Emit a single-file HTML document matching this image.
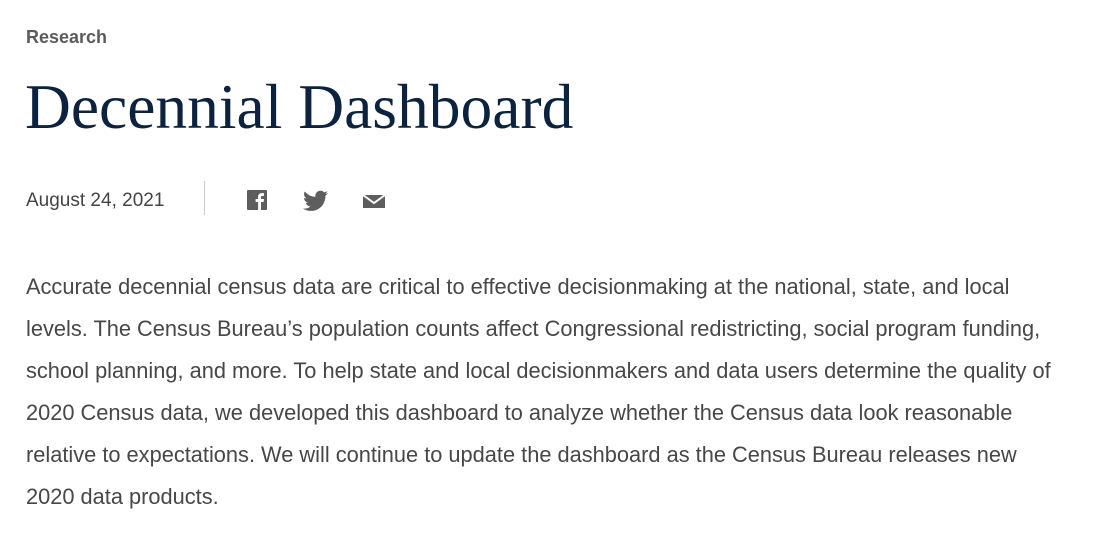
<!DOCTYPE html>
<html><head><meta charset="utf-8"><style>
html,body{margin:0;padding:0;background:#fff;width:1093px;height:544px;overflow:hidden}
body{position:relative;font-family:"Liberation Sans",sans-serif}
.research{position:absolute;left:26px;top:27px;font-size:18px;font-weight:bold;color:#5b5b5b}
h1{position:absolute;left:25px;top:67px;margin:0;font-family:"Liberation Serif",serif;font-weight:normal;font-size:63.5px;line-height:80px;color:#0c2340}
.date{position:absolute;left:26px;top:190px;font-size:19px;color:#444}
.divider{position:absolute;left:204px;top:181px;width:1px;height:34px;background:#ccc}
.icon{position:absolute;top:190px;width:22px;height:22px}
p{position:absolute;left:26px;top:266px;width:1065px;margin:0;font-size:21.8px;line-height:42px;color:#474747;white-space:nowrap}
</style></head><body>
<div class="research">Research</div>
<h1>Decennial Dashboard</h1>
<div class="date">August 24, 2021</div>
<div class="divider"></div>
<svg class="icon" style="left:247px" viewBox="0 0 22 22"><rect x="0" y="0" width="20" height="20" rx="1" fill="#5e5e5e"/><path d="M14 20V12h2.6l.4-3H14V7.3c0-.9.3-1.4 1.5-1.4H17V3.2c-.3 0-1.2-.1-2.2-.1-2.2 0-3.7 1.3-3.7 3.8V9H8.6v3h2.5v8z" fill="#fff"/></svg>
<svg class="icon" style="left:303px;width:25px" viewBox="0 0 24 20"><path d="M24 2.4c-.9.4-1.8.7-2.8.8 1-.6 1.8-1.6 2.2-2.7-1 .6-2 1-3.1 1.2A4.9 4.9 0 0 0 11.9 6 14 14 0 0 1 1.7.9a4.9 4.9 0 0 0 1.5 6.6c-.8 0-1.6-.2-2.2-.6 0 2.4 1.700 4.4 3.9 4.8-.7.2-1.5.2-2.2.1.6 2 2.4 3.4 4.6 3.4A9.9 9.9 0 0 1 0 17.3 14 14 0 0 0 7.5 19.5c9.1 0 14-7.5 14-14v-.6c1-.7 1.8-1.6 2.5-2.5z" fill="#5e5e5e"/></svg>
<svg class="icon" style="left:362px;width:24px" viewBox="0 0 24 18"><path d="M1 3h22v13H1z" fill="#5e5e5e"/><path d="M1 3l11 8 11-8" fill="none" stroke="#fff" stroke-width="2"/></svg>
<p>Accurate decennial census data are critical to effective decisionmaking at the national, state, and local<br>levels. The Census Bureau’s population counts affect Congressional redistricting, social program funding,<br>school planning, and more. To help state and local decisionmakers and data users determine the quality of<br>2020 Census data, we developed this dashboard to analyze whether the Census data look reasonable<br>relative to expectations. We will continue to update the dashboard as the Census Bureau releases new<br>2020 data products.</p>
</body></html>
